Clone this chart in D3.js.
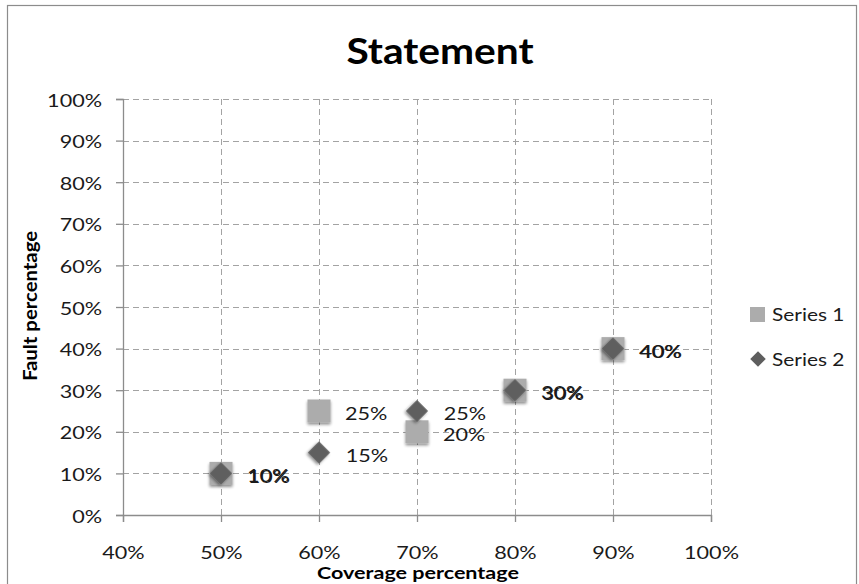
<!DOCTYPE html>
<html>
<head>
<meta charset="utf-8">
<script src="https://cdn.jsdelivr.net/npm/d3@7/dist/d3.min.js"></script>
<style>
  html, body { margin: 0; padding: 0; background: #fff; }
  svg { display: block; font-family: Lato, "Open Sans", sans-serif; }
</style>
</head>
<body>
<svg id="chart" width="859" height="584"></svg>
<script>
// Coverage (x) and fault (y) percentages for the two series
const coverage = [0.5, 0.6, 0.7, 0.8, 0.9];
const series1 = [0.10, 0.25, 0.20, 0.30, 0.40];
const series2 = [0.10, 0.15, 0.25, 0.30, 0.40];
const seriesNames = ["Series 1", "Series 2"];
const xTicks = [0.4, 0.5, 0.6, 0.7, 0.8, 0.9, 1.0];
const yTicks = [0, 0.1, 0.2, 0.3, 0.4, 0.5, 0.6, 0.7, 0.8, 0.9, 1.0];

const svg = d3.select("#chart");
const pct = d3.format(".0%");
const SX = 1.2; // horizontal widening of the text face

// Outer chart frame
svg.append("rect")
  .attr("x", 7.5).attr("y", 5.5).attr("width", 849).attr("height", 590)
  .attr("fill", "#fff").attr("stroke", "#8c8c8c").attr("stroke-width", 1.2);

const x = d3.scaleLinear().domain([0.4, 1.0]).range([123, 711]);
const y = d3.scaleLinear().domain([0, 1.0]).range([515, 99]);

// Soft shadow under markers
const defs = svg.append("defs");
const f = defs.append("filter").attr("id", "shadow")
  .attr("x", "-50%").attr("y", "-50%").attr("width", "200%").attr("height", "200%");
f.append("feGaussianBlur").attr("in", "SourceAlpha").attr("stdDeviation", 1.8).attr("result", "b");
f.append("feOffset").attr("in", "b").attr("dx", 0).attr("dy", 2).attr("result", "o");
f.append("feComponentTransfer").attr("in", "o").attr("result", "s")
  .append("feFuncA").attr("type", "linear").attr("slope", 0.45);
const m = f.append("feMerge");
m.append("feMergeNode").attr("in", "s");
m.append("feMergeNode").attr("in", "SourceGraphic");

// Widened text placed with its anchor at (px, py)
function wideText(g, px, py, str, opts = {}) {
  return g.append("text")
    .attr("transform", `translate(${px},${py})${opts.rotate ? " rotate(" + opts.rotate + ")" : ""} scale(${opts.sx || SX},1)`)
    .attr("text-anchor", opts.anchor || "start")
    .style("font-size", (opts.size || 18) + "px")
    .style("font-weight", opts.bold ? "bold" : "normal")
    .attr("fill", opts.fill || "#1a1a1a")
    .text(str);
}

// Dashed gridlines
const grid = svg.append("g").attr("stroke", "#a3a3a3").attr("stroke-width", 1)
  .attr("stroke-dasharray", "6,4");
grid.selectAll(".gy").data(yTicks.filter(d => d > 0)).join("line")
  .attr("x1", x(0.4)).attr("x2", x(1.0))
  .attr("y1", d => Math.round(y(d)) + 0.5).attr("y2", d => Math.round(y(d)) + 0.5);
grid.selectAll(".gx").data(xTicks.filter(d => d > 0.4)).join("line")
  .attr("y1", y(1.0)).attr("y2", y(0))
  .attr("x1", d => Math.round(x(d)) + 0.5).attr("x2", d => Math.round(x(d)) + 0.5);

// Axes
const yAxis = d3.axisLeft(y).tickValues(yTicks).tickFormat(pct).tickSize(7);
const xAxis = d3.axisBottom(x).tickValues(xTicks).tickFormat(pct).tickSize(7);

const gy = svg.append("g").attr("transform", `translate(${x(0.4)},0)`).call(yAxis);
const gx = svg.append("g").attr("transform", `translate(0,${y(0)})`).call(xAxis);
[gx, gy].forEach(g => {
  g.select(".domain").attr("stroke", "#8c8c8c").attr("stroke-width", 1.3);
  g.selectAll(".tick line").attr("stroke", "#8c8c8c").attr("stroke-width", 1.3);
  g.selectAll(".tick text").attr("fill", "#1a1a1a").style("font-size", "18px")
    .style("font-family", "Lato, 'Open Sans', sans-serif")
    .attr("x", null).attr("y", null).attr("dy", null);
});
gy.selectAll(".tick text").attr("transform", `translate(-21,7) scale(${SX},1)`);
gx.selectAll(".tick text").attr("transform", `translate(0,44) scale(${SX},1)`);

// Title and axis titles
wideText(svg, 440, 64, "Statement", { size: 37, bold: true, sx: 1.1, anchor: "middle", fill: "#000" });
wideText(svg, 418, 579, "Coverage percentage", { size: 17.5, bold: true, sx: 1.23, anchor: "middle", fill: "#000" });
wideText(svg, 37, 306, "Fault percentage", { size: 18, bold: true, sx: 1.13, anchor: "middle", rotate: -90, fill: "#000" });

const pts1 = coverage.map((c, i) => ({ x: c, y: series1[i] }));
const pts2 = coverage.map((c, i) => ({ x: c, y: series2[i] }));

const sq = 23;

// Series 1: light grey squares
svg.append("g").selectAll("rect").data(pts1).join("rect")
  .attr("x", d => x(d.x) - sq / 2).attr("y", d => y(d.y) - sq / 2)
  .attr("width", sq).attr("height", sq)
  .attr("fill", "#acacac").attr("filter", "url(#shadow)");

// Series 2: dark grey diamonds
svg.append("g").selectAll("path").data(pts2).join("path")
  .attr("d", d3.symbol().type(d3.symbolSquare).size(245))
  .attr("transform", d => `translate(${x(d.x)},${y(d.y)}) rotate(45)`)
  .attr("fill", "#5e5e5e").attr("filter", "url(#shadow)");

// Value labels for both series
const lab = svg.append("g");
pts1.forEach(d => wideText(lab, x(d.x) + 26, y(d.y) + 9, pct(d.y)));
pts2.forEach(d => wideText(lab, x(d.x) + 26.8, y(d.y) + 9.4, pct(d.y)));

// Legend
const leg = svg.append("g");
leg.append("rect").attr("x", 750).attr("y", 307).attr("width", 15).attr("height", 15).attr("fill", "#acacac");
wideText(leg, 772, 321, seriesNames[0], { size: 18, sx: 1.16 });
leg.append("path").attr("d", d3.symbol().type(d3.symbolSquare).size(120))
  .attr("transform", "translate(758,359) rotate(45)").attr("fill", "#5e5e5e");
wideText(leg, 772, 366, seriesNames[1], { size: 18, sx: 1.16 });
</script>
</body>
</html>
